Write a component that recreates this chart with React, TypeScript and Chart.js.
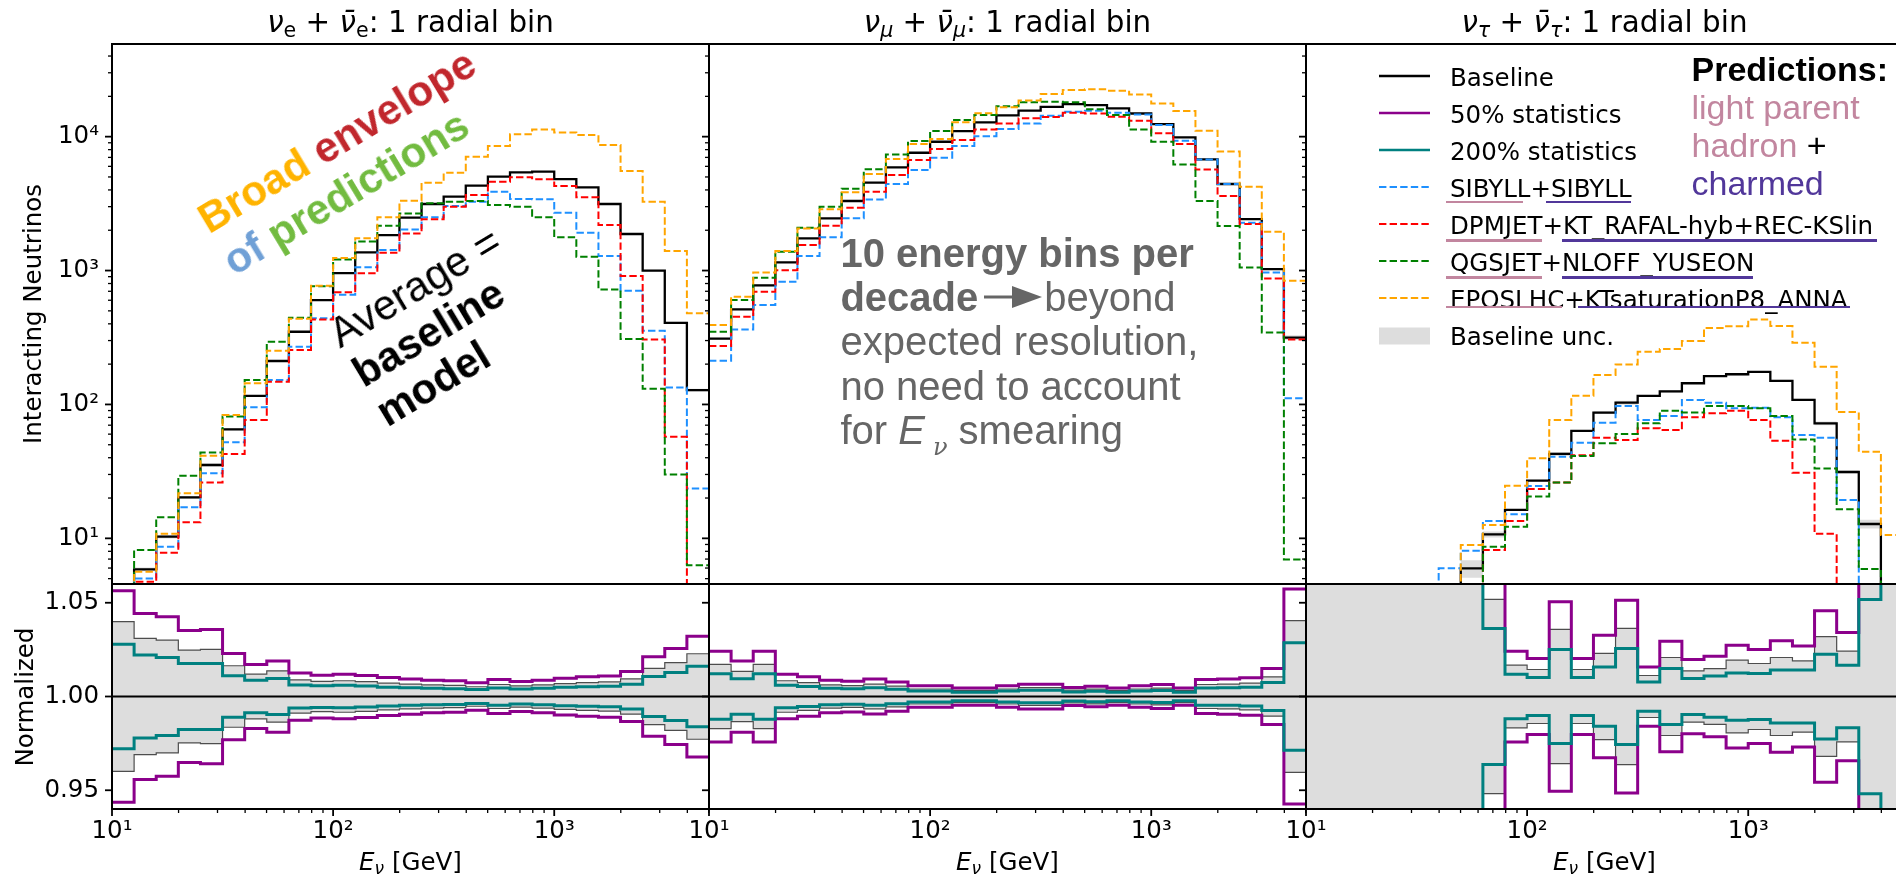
import React, { useEffect, useRef } from 'react';
import { Chart, registerables } from 'chart.js';

Chart.register(...registerables);

// ---------------- data ----------------
// energy bin edges [GeV], 10 bins per decade
const binEdges = [10, 12.589, 15.849, 19.953, 25.119, 31.623, 39.811, 50.119, 63.096, 79.433, 100, 125.89, 158.49, 199.53, 251.19, 316.23, 398.11, 501.19, 630.96, 794.33, 1000, 1258.9, 1584.9, 1995.3, 2511.9, 3162.3, 3981.1, 5011.9];

// nu_e + anti-nu_e
const nueBaseline = [3.0, 5.87, 10.3, 20.2, 35.3, 65.2, 116, 211, 349, 601, 955, 1365, 1841, 2483, 3141, 3564, 4306, 5026, 5412, 5475, 4822, 4178, 3141, 1875, 998, 407, 128];
const nueSibyll = [2.5, 5.02, 8.66, 17.1, 30.6, 52.1, 95.1, 152, 270, 441, 660, 1060, 1422, 2028, 2496, 3033, 3266, 3882, 3424, 3405, 2705, 1916, 1283, 707, 355, 134, 23.6];
const nueDpmjet = [2.4, 4.74, 7.82, 13.2, 26.1, 42.7, 76.6, 148, 255, 430, 689, 953, 1358, 1892, 2411, 2998, 3665, 4613, 4966, 4800, 4278, 3524, 2188, 910, 306, 57.4, 3.0];
const nueQgsjet = [3.5, 8.18, 14.4, 29.3, 43.8, 81.1, 152, 294, 445, 764, 1210, 1650, 2158, 2667, 3177, 3267, 3306, 3085, 2998, 2496, 1771, 1269, 723, 308, 131, 30, 6.3];
const nueEpos = [2.8, 5.64, 10.8, 21.7, 41.4, 83.4, 144, 252, 436, 770, 1243, 1740, 2496, 3319, 4528, 5374, 7079, 8506, 10400, 11330, 10760, 10280, 8650, 5537, 3266, 1400, 479];
const nueUnc = [0.0399, 0.0310, 0.0301, 0.0247, 0.0251, 0.0164, 0.0119, 0.0137, 0.0089, 0.0081, 0.0084, 0.0079, 0.0071, 0.0066, 0.0062, 0.0059, 0.0052, 0.0064, 0.0057, 0.0062, 0.0069, 0.0074, 0.0078, 0.0094, 0.0150, 0.0181, 0.0228];
const nueUnc50 = [0.0564, 0.0443, 0.0425, 0.0352, 0.0358, 0.0230, 0.0171, 0.0190, 0.0126, 0.0114, 0.0119, 0.0112, 0.0101, 0.0094, 0.0087, 0.0084, 0.0073, 0.0091, 0.0080, 0.0087, 0.0098, 0.0105, 0.0110, 0.0133, 0.0212, 0.0256, 0.0322];
const nueUnc200 = [0.0279, 0.0221, 0.0208, 0.0176, 0.0176, 0.0111, 0.0087, 0.0096, 0.0061, 0.0058, 0.0060, 0.0056, 0.0050, 0.0047, 0.0044, 0.0042, 0.0037, 0.0046, 0.0040, 0.0044, 0.0049, 0.0052, 0.0055, 0.0066, 0.0107, 0.0128, 0.0161];

// nu_mu + anti-nu_mu
const numuBaseline = [310, 513, 774, 1149, 1738, 2454, 3306, 4534, 5893, 7580, 9158, 11010, 12790, 14400, 15660, 16710, 17500, 17180, 16250, 14890, 12420, 9860, 6760, 4430, 2420, 1025, 316];
const numuSibyll = [212, 363, 552, 824, 1282, 1770, 2454, 3400, 4426, 5625, 6958, 8498, 10090, 11400, 12560, 14300, 15340, 15590, 15070, 14640, 12220, 9310, 6760, 4430, 2275, 968, 111];
const numuDpmjet = [273, 452, 695, 1007, 1549, 2163, 2944, 3882, 5163, 6683, 8077, 9425, 11330, 12560, 13700, 14000, 15070, 14890, 14060, 13150, 10590, 8800, 5690, 3600, 2225, 873, 306];
const numuQgsjet = [349, 603, 883, 1380, 2089, 3000, 4087, 5697, 7370, 9268, 11010, 13310, 14500, 16900, 18100, 18240, 18030, 15990, 14480, 11320, 9160, 6190, 3300, 2150, 1055, 345, 6.95];
const numuEpos = [392, 638, 968, 1400, 2065, 2866, 3836, 5260, 6797, 8799, 9600, 12790, 14930, 16600, 18640, 20790, 22280, 22550, 22030, 20650, 17700, 15520, 11070, 7730, 4230, 1950, 840];
const numuUnc = [0.0171, 0.0134, 0.0171, 0.0084, 0.0074, 0.0062, 0.0058, 0.0066, 0.0055, 0.0040, 0.0040, 0.0033, 0.0033, 0.0040, 0.0047, 0.0047, 0.0034, 0.0039, 0.0033, 0.0040, 0.0045, 0.0033, 0.0064, 0.0066, 0.0071, 0.0105, 0.0405];
const numuUnc50 = [0.0242, 0.0190, 0.0242, 0.0119, 0.0105, 0.0087, 0.0082, 0.0093, 0.0078, 0.0057, 0.0057, 0.0046, 0.0046, 0.0057, 0.0066, 0.0066, 0.0048, 0.0055, 0.0046, 0.0057, 0.0064, 0.0046, 0.0091, 0.0094, 0.0100, 0.0149, 0.0573];
const numuUnc200 = [0.0121, 0.0095, 0.0121, 0.0060, 0.0053, 0.0044, 0.0041, 0.0047, 0.0039, 0.0029, 0.0029, 0.0023, 0.0023, 0.0029, 0.0033, 0.0033, 0.0024, 0.0028, 0.0023, 0.0029, 0.0032, 0.0023, 0.0046, 0.0047, 0.0050, 0.0075, 0.0287];

// nu_tau + anti-nu_tau
const nutauBaseline = [0.2, 0.3, 0.4, 0.6, 0.8, 1.2, 1.8, 5.97, 10.7, 16.3, 27.0, 42.7, 63.4, 86.9, 103, 116, 125, 144, 163, 168, 175, 150, 108, 72.3, 31.3, 12.8, 3.5];
const nutauSibyll = [0.2, 0.3, 0.5, 0.8, 1.2, 3.0, 5.97, 8.09, 13.5, 15.1, 24.6, 40.7, 51.8, 73.1, 97.3, 76.6, 82.0, 108, 103, 93.5, 94.6, 80.2, 59.2, 56.5, 19.3, 3.5, 2.0];
const nutauDpmjet = [0.2, 0.3, 0.4, 0.6, 0.9, 1.3, 2.0, 3.0, 8.18, 13.5, 23.4, 26.1, 41.7, 56.5, 54.2, 66.3, 64.4, 80.2, 85.9, 89.8, 76.6, 53.6, 30.9, 10.8, 2.5, 2.0, 1.5];
const nutauQgsjet = [0.2, 0.3, 0.4, 0.6, 0.9, 1.3, 2.0, 3.0, 8.66, 12.2, 20.5, 26.1, 41.2, 51.2, 60.1, 72.3, 89.8, 86.9, 97.3, 97.3, 93.5, 82.0, 54.8, 33.3, 16.5, 5.9, 2.0];
const nutauEpos = [0.2, 0.3, 0.5, 0.8, 1.2, 2.0, 3.8, 8.9, 12.6, 24.7, 39.6, 76.6, 116, 166, 199, 248, 259, 298, 372, 383, 430, 385, 289, 191, 87.7, 44.4, 10.6];
const nutauUnc = [1.0, 1.0, 1.0, 1.0, 1.0, 1.0, 1.0, 0.15, 0.0518, 0.0167, 0.0144, 0.0358, 0.0144, 0.0230, 0.0363, 0.0112, 0.0208, 0.0137, 0.0149, 0.0194, 0.0176, 0.0208, 0.0190, 0.0319, 0.0242, 0.0733, 0.092];
const nutauUnc50 = [1.41, 1.41, 1.41, 1.41, 1.41, 1.41, 1.41, 0.21, 0.073, 0.0242, 0.0203, 0.0505, 0.0203, 0.0327, 0.0514, 0.0158, 0.0295, 0.0198, 0.0215, 0.0274, 0.0251, 0.0297, 0.0269, 0.0457, 0.0342, 0.1036, 0.13];
const nutauUnc200 = [0.71, 0.71, 0.71, 0.71, 0.71, 0.71, 0.71, 0.106, 0.0363, 0.0119, 0.0101, 0.0251, 0.0101, 0.0158, 0.0256, 0.0078, 0.0149, 0.0096, 0.0110, 0.0126, 0.0123, 0.0141, 0.0141, 0.0226, 0.0167, 0.0518, 0.065];

// ticks
const xTickValues = [10, 20, 30, 40, 50, 60, 70, 80, 90, 100, 200, 300, 400, 500, 600, 700, 800, 900, 1000, 2000, 3000, 4000, 5000];
const xMajorTicks = [10, 100, 1000];
const xTickLabels = ['10¹', '10²', '10³'];
const yTopTickValues = [5, 6, 7, 8, 9, 10, 20, 30, 40, 50, 60, 70, 80, 90, 100, 200, 300, 400, 500, 600, 700, 800, 900, 1000, 2000, 3000, 4000, 5000, 6000, 7000, 8000, 9000, 10000, 20000, 30000, 40000];
const yTopMajorTicks = [10, 100, 1000, 10000];
const yTopTickLabels = ['10¹', '10²', '10³', '10⁴'];
const yRatioTickValues = [0.95, 1.0, 1.05];
const yRatioTickLabels = ['0.95', '1.00', '1.05'];

const titlesSub = ['e', 'μ', 'τ'];
const legendLabels = ['Baseline', '50% statistics', '200% statistics', 'SIBYLL+SIBYLL', 'DPMJET+KT_RAFAL-hyb+REC-KSlin', 'QGSJET+NLOFF_YUSEON', 'EPOSLHC+KTsaturationP8_ANNA', 'Baseline unc.'];

// ---------------- style / layout ----------------
const C = {
  baseline: '#000000', half: '#8b008b', double: '#008080', sibyll: '#1e90ff', dpmjet: '#ff0000',
  qgsjet: '#008000', epos: '#ffa500', unc: '#dddddd', uncEdge: '#4d4d4d',
  pink: '#c2869f', violet: '#51379a', gray: '#666666',
};
const DASH = [7.4, 3.2];
const PANEL_LEFT = [112, 709, 1306];
const PANEL_W = 597;
const TOP_Y = 44, TOP_H = 540, RAT_Y = 584, RAT_H = 225;
const AXIS_W = 112, PAD_T = 30, PAD_R = 20, PAD_B = 30, XAXIS_H = 60;
const Y_TOP_MIN = 4.56, Y_TOP_MAX = 49200, Y_RAT_MIN = 0.94, Y_RAT_MAX = 1.06;

const panels = [
  { baseline: nueBaseline, sibyll: nueSibyll, dpmjet: nueDpmjet, qgsjet: nueQgsjet, epos: nueEpos, unc: nueUnc, unc50: nueUnc50, unc200: nueUnc200 },
  { baseline: numuBaseline, sibyll: numuSibyll, dpmjet: numuDpmjet, qgsjet: numuQgsjet, epos: numuEpos, unc: numuUnc, unc50: numuUnc50, unc200: numuUnc200 },
  { baseline: nutauBaseline, sibyll: nutauSibyll, dpmjet: nutauDpmjet, qgsjet: nutauQgsjet, epos: nutauEpos, unc: nutauUnc, unc50: nutauUnc50, unc200: nutauUnc200 },
];

function steps(vals: number[]) {
  const pts = vals.map((v, k) => ({ x: binEdges[k], y: v }));
  pts.push({ x: binEdges[vals.length], y: vals[vals.length - 1] });
  return pts;
}

function lineDs(label: string, vals: number[], color: string, width: number, dash: number[], order: number, extra: any = {}) {
  return { label, data: steps(vals), borderColor: color, borderWidth: width, borderDash: dash, stepped: true, pointRadius: 0, fill: false, order, ...extra };
}

function makeAxes(yTicks: number[], yMajor: number[], xTicks: number[] | null, xMajor: number[]) {
  return {
    id: 'mplAxes',
    afterDatasetsDraw(chart: any) {
      const { ctx, chartArea: a, scales } = chart;
      ctx.save();
      ctx.strokeStyle = '#000';
      ctx.setLineDash([]);
      const seg = (x1: number, y1: number, x2: number, y2: number, w: number) => {
        ctx.lineWidth = w; ctx.beginPath(); ctx.moveTo(x1, y1); ctx.lineTo(x2, y2); ctx.stroke();
      };
      yTicks.forEach((v) => {
        const y = scales.y.getPixelForValue(v);
        if (y < a.top - 1 || y > a.bottom + 1) return;
        const major = yMajor.indexOf(v) >= 0;
        seg(a.left - (major ? 7 : 4), y, a.left, y, major ? 1.8 : 1.3);
      });
      if (xTicks) {
        xTicks.forEach((v) => {
          const x = scales.x.getPixelForValue(v);
          if (x < a.left - 1 || x > a.right + 1) return;
          const major = xMajor.indexOf(v) >= 0;
          seg(x, a.bottom, x, a.bottom + (major ? 7 : 4), major ? 1.8 : 1.3);
        });
      }
      ctx.lineWidth = 2;
      ctx.strokeRect(a.left, a.top, a.right - a.left, a.bottom - a.top);
      ctx.restore();
    },
  };
}

const tickFont = { family: "'DejaVu Sans', sans-serif", size: 24.5 };

function topConfig(p: any, showY: boolean): any {
  const upper = p.baseline.map((b: number, k: number) => b * (1 + p.unc[k]));
  const lower = p.baseline.map((b: number, k: number) => b * Math.max(1 - p.unc[k], 0.01));
  return {
    type: 'line',
    data: {
      datasets: [
        lineDs('EPOSLHC+KTsaturationP8_ANNA', p.epos, C.epos, 2, DASH, 0),
        lineDs('QGSJET+NLOFF_YUSEON', p.qgsjet, C.qgsjet, 2, DASH, 1),
        lineDs('DPMJET+KT_RAFAL-hyb+REC-KSlin', p.dpmjet, C.dpmjet, 2, DASH, 2),
        lineDs('SIBYLL+SIBYLL', p.sibyll, C.sibyll, 2, DASH, 3),
        lineDs('Baseline', p.baseline, C.baseline, 2.3, [], 4),
        lineDs('Baseline unc.', upper, 'rgba(0,0,0,0)', 1, [], 6, { fill: '+1', backgroundColor: C.unc }),
        lineDs('Baseline unc. (low)', lower, 'rgba(0,0,0,0)', 1, [], 5),
      ],
    },
    options: {
      animation: false, responsive: false, devicePixelRatio: 1,
      layout: { padding: { left: 0, top: PAD_T, right: PAD_R, bottom: PAD_B } },
      plugins: { legend: { display: false }, tooltip: { enabled: false } },
      scales: {
        x: { type: 'logarithmic', min: binEdges[0], max: binEdges[binEdges.length - 1], display: false },
        y: {
          type: 'logarithmic', min: Y_TOP_MIN, max: Y_TOP_MAX,
          afterFit: (s: any) => { s.width = AXIS_W; },
          afterBuildTicks: (s: any) => { s.ticks = yTopTickValues.map((v) => ({ value: v })); },
          grid: { display: false, drawTicks: false }, border: { display: false },
          ticks: {
            autoSkip: false, padding: 13, color: '#000', font: tickFont,
            callback: (v: number) => { if (!showY) return ''; const j = yTopMajorTicks.indexOf(v); return j >= 0 ? yTopTickLabels[j] : ''; },
          },
        },
      },
    },
    plugins: [makeAxes(yTopTickValues, yTopMajorTicks, null, xMajorTicks)],
  };
}

function ratioConfig(p: any, showY: boolean): any {
  const up = (u: number[]) => u.map((v) => 1 + v);
  const dn = (u: number[]) => u.map((v) => 1 - v);
  return {
    type: 'line',
    data: {
      datasets: [
        { label: 'unity', data: [{ x: binEdges[0], y: 1 }, { x: binEdges[binEdges.length - 1], y: 1 }], borderColor: '#000', borderWidth: 2, pointRadius: 0, fill: false, order: 0 },
        lineDs('200% statistics', up(p.unc200), C.double, 3, [], 1),
        lineDs('200% statistics (low)', dn(p.unc200), C.double, 3, [], 1),
        lineDs('50% statistics', up(p.unc50), C.half, 3, [], 2),
        lineDs('50% statistics (low)', dn(p.unc50), C.half, 3, [], 2),
        lineDs('Baseline unc.', up(p.unc), C.uncEdge, 1.2, [], 4, { fill: '+1', backgroundColor: C.unc }),
        lineDs('Baseline unc. (low)', dn(p.unc), C.uncEdge, 1.2, [], 3),
      ],
    },
    options: {
      animation: false, responsive: false, devicePixelRatio: 1,
      layout: { padding: { left: 0, top: PAD_T, right: PAD_R, bottom: 0 } },
      plugins: { legend: { display: false }, tooltip: { enabled: false } },
      scales: {
        x: {
          type: 'logarithmic', min: binEdges[0], max: binEdges[binEdges.length - 1],
          afterFit: (s: any) => { s.height = XAXIS_H; },
          afterBuildTicks: (s: any) => { s.ticks = xTickValues.map((v) => ({ value: v })); },
          grid: { display: false, drawTicks: false }, border: { display: false },
          ticks: {
            autoSkip: false, maxRotation: 0, minRotation: 0, padding: 8, color: '#000', font: tickFont,
            callback: (v: number) => { const j = xMajorTicks.indexOf(v); return j >= 0 ? xTickLabels[j] : ''; },
          },
        },
        y: {
          type: 'linear', min: Y_RAT_MIN, max: Y_RAT_MAX,
          afterFit: (s: any) => { s.width = AXIS_W; },
          afterBuildTicks: (s: any) => { s.ticks = yRatioTickValues.map((v) => ({ value: v })); },
          grid: { display: false, drawTicks: false }, border: { display: false },
          ticks: {
            autoSkip: false, padding: 13, color: '#000', font: tickFont,
            callback: (v: number) => { if (!showY) return ''; const j = yRatioTickValues.findIndex((t) => Math.abs(t - v) < 1e-6); return j >= 0 ? yRatioTickLabels[j] : ''; },
          },
        },
      },
    },
    plugins: [makeAxes(yRatioTickValues, yRatioTickValues, xTickValues, xMajorTicks)],
  };
}

// ---------------- text helpers ----------------
const DV = "'DejaVu Sans', sans-serif";
const LS = "'Liberation Sans', Arial, sans-serif";
const subStyle: any = { fontSize: '0.7em', verticalAlign: '-0.25em', lineHeight: 0 };

function PanelTitle({ i }: { i: number }) {
  const cx = PANEL_LEFT[i] + PANEL_W / 2;
  const s = titlesSub[i];
  const italicSub = i > 0;
  return (
    <div style={{ position: 'absolute', left: cx - 300, width: 600, top: 8, textAlign: 'center', fontFamily: DV, fontSize: 29.4, lineHeight: '29.4px', whiteSpace: 'nowrap', color: '#000' }}>
      <i>ν</i><span style={{ ...subStyle, fontStyle: italicSub ? 'italic' : 'normal' }}>{s}</span>
      {' + '}
      <i>{'ν\u0304'}</i><span style={{ ...subStyle, fontStyle: italicSub ? 'italic' : 'normal' }}>{s}</span>
      {': 1 radial bin'}
    </div>
  );
}

function XLabel({ i }: { i: number }) {
  const cx = PANEL_LEFT[i] + PANEL_W / 2;
  return (
    <div style={{ position: 'absolute', left: cx - 200, width: 400, top: 849.8, textAlign: 'center', fontFamily: DV, fontSize: 24.5, lineHeight: '24.5px', whiteSpace: 'nowrap' }}>
      <i>E</i><span style={{ ...subStyle, fontStyle: 'italic' }}>ν</span>{' [GeV]'}
    </div>
  );
}

function RotLabel({ text, cx, cy }: { text: string; cx: number; cy: number }) {
  return (
    <div style={{ position: 'absolute', left: cx, top: cy, transform: 'translate(-50%, -50%) rotate(-90deg)', fontFamily: DV, fontSize: 24.5, lineHeight: '24.5px', whiteSpace: 'nowrap' }}>{text}</div>
  );
}

function Legend() {
  const rows: any[] = [
    { kind: 'line', color: C.baseline, width: 2.3, dash: [] },
    { kind: 'line', color: C.half, width: 2.5, dash: [] },
    { kind: 'line', color: C.double, width: 2.5, dash: [] },
    { kind: 'line', color: C.sibyll, width: 2, dash: DASH },
    { kind: 'line', color: C.dpmjet, width: 2, dash: DASH },
    { kind: 'line', color: C.qgsjet, width: 2, dash: DASH },
    { kind: 'line', color: C.epos, width: 2, dash: DASH },
    { kind: 'band', color: C.unc },
  ];
  const y0 = 75.8, dy = 37.1;
  const underlines = [
    { x1: 1446, x2: 1523, y: 202, c: C.pink }, { x1: 1546, x2: 1631, y: 202, c: C.violet },
    { x1: 1446, x2: 1542, y: 240.3, c: C.pink }, { x1: 1561.5, x2: 1876.6, y: 240.3, c: C.violet },
    { x1: 1446, x2: 1542, y: 277.5, c: C.pink }, { x1: 1561.5, x2: 1753.4, y: 277.5, c: C.violet },
    { x1: 1446, x2: 1561.5, y: 307, c: C.pink }, { x1: 1577.5, x2: 1850, y: 307, c: C.violet },
  ];
  return (
    <>
      {rows.map((r, j) => {
        const cy = y0 + dy * j;
        return (
          <React.Fragment key={j}>
            <svg style={{ position: 'absolute', left: 1379, top: cy - 10 }} width={52} height={20}>
              {r.kind === 'line' ? (
                <line x1={0} y1={10} x2={51} y2={10} stroke={r.color} strokeWidth={r.width} strokeDasharray={r.dash.length ? r.dash.join(',') : undefined} />
              ) : (
                <rect x={0} y={1.5} width={51} height={17} fill={r.color} />
              )}
            </svg>
            <div style={{ position: 'absolute', left: 1450, top: cy - dy / 2 + 1.5, fontFamily: DV, fontSize: 24.5, lineHeight: dy + 'px', whiteSpace: 'nowrap', color: '#000' }}>{legendLabels[j]}</div>
          </React.Fragment>
        );
      })}
      {underlines.map((u, j) => (
        <div key={'u' + j} style={{ position: 'absolute', left: u.x1, top: u.y - 1.25, width: u.x2 - u.x1, height: 2.5, background: u.c }} />
      ))}
    </>
  );
}

function Predictions() {
  const base: any = { position: 'absolute', left: 1691.5, fontFamily: LS, fontSize: 34, lineHeight: '34px', whiteSpace: 'nowrap' };
  return (
    <>
      <div style={{ ...base, top: 52.2, fontWeight: 'bold', color: '#000' }}>Predictions:</div>
      <div style={{ ...base, top: 89.8, color: C.pink }}>light parent</div>
      <div style={{ ...base, top: 128.2 }}><span style={{ color: C.pink }}>hadron</span><span style={{ color: '#000' }}> +</span></div>
      <div style={{ ...base, top: 166.2, color: C.violet }}>charmed</div>
    </>
  );
}

function Envelope() {
  return (
    <div style={{ position: 'absolute', left: 188.8, top: 201.4, transform: 'rotate(-31deg)', transformOrigin: '0 0', fontFamily: LS, fontWeight: 'bold', fontSize: 42, lineHeight: '49.3px', whiteSpace: 'nowrap' }}>
      <div><span style={{ color: '#ffb300' }}>Broad</span> <span style={{ color: '#c1272d' }}>envelope</span></div>
      <div><span style={{ color: '#70a0d6' }}>of</span> <span style={{ color: '#72bb40' }}>predictions</span></div>
    </div>
  );
}

function AverageNote() {
  return (
    <div style={{ position: 'absolute', left: 320.7, top: 316.8, transform: 'rotate(-31deg)', transformOrigin: '0 0', fontFamily: LS, fontSize: 42, lineHeight: '46px', whiteSpace: 'nowrap', color: '#000' }}>
      <div>Average =</div>
      <div style={{ fontWeight: 'bold' }}>baseline</div>
      <div style={{ fontWeight: 'bold' }}>model</div>
    </div>
  );
}

function BinsNote() {
  return (
    <div style={{ position: 'absolute', left: 840.4, top: 230.7, fontFamily: LS, fontSize: 40, lineHeight: '44.3px', whiteSpace: 'nowrap', color: C.gray }}>
      <div style={{ fontWeight: 'bold' }}>10 energy bins per</div>
      <div>
        <b>decade</b>
        <svg width={59} height={24} style={{ marginLeft: 6, marginRight: 1, verticalAlign: '2px' }}>
          <line x1={0} y1={12} x2={32} y2={12} stroke={C.gray} strokeWidth={3} />
          <polygon points="28,1 58,12 28,23" fill={C.gray} />
        </svg>
        beyond
      </div>
      <div>expected resolution,</div>
      <div>no need to account</div>
      <div>for <i>E</i><span style={{ fontSize: '0.6em', verticalAlign: '-0.45em', lineHeight: 0, fontStyle: 'italic', fontFamily: "'DejaVu Serif', serif", marginLeft: 8 }}>ν</span> smearing</div>
    </div>
  );
}

// ---------------- app ----------------
export default function App() {
  const topRefs = [useRef<HTMLCanvasElement>(null), useRef<HTMLCanvasElement>(null), useRef<HTMLCanvasElement>(null)];
  const ratRefs = [useRef<HTMLCanvasElement>(null), useRef<HTMLCanvasElement>(null), useRef<HTMLCanvasElement>(null)];

  useEffect(() => {
    const charts: Chart[] = [];
    panels.forEach((p, i) => {
      if (topRefs[i].current) charts.push(new Chart(topRefs[i].current as HTMLCanvasElement, topConfig(p, i === 0)));
      if (ratRefs[i].current) charts.push(new Chart(ratRefs[i].current as HTMLCanvasElement, ratioConfig(p, i === 0)));
    });
    return () => charts.forEach((c) => c.destroy());
  }, []);

  const cw = AXIS_W + PANEL_W + PAD_R;
  return (
    <div style={{ position: 'fixed', left: 0, top: 0, width: 1896, height: 878, overflow: 'hidden', background: '#fff', color: '#000' }}>
      {[0, 1, 2].map((i) => (
        <React.Fragment key={i}>
          <canvas ref={topRefs[i]} width={cw} height={PAD_T + TOP_H + PAD_B} style={{ position: 'absolute', left: PANEL_LEFT[i] - AXIS_W, top: TOP_Y - PAD_T }} />
          <canvas ref={ratRefs[i]} width={cw} height={PAD_T + RAT_H + XAXIS_H} style={{ position: 'absolute', left: PANEL_LEFT[i] - AXIS_W, top: RAT_Y - PAD_T }} />
        </React.Fragment>
      ))}
      {[0, 1, 2].map((i) => <PanelTitle key={'t' + i} i={i} />)}
      {[0, 1, 2].map((i) => <XLabel key={'x' + i} i={i} />)}
      <RotLabel text="Interacting Neutrinos" cx={33} cy={313.5} />
      <RotLabel text="Normalized" cx={25} cy={697} />
      <Envelope />
      <AverageNote />
      <BinsNote />
      <Legend />
      <Predictions />
    </div>
  );
}
